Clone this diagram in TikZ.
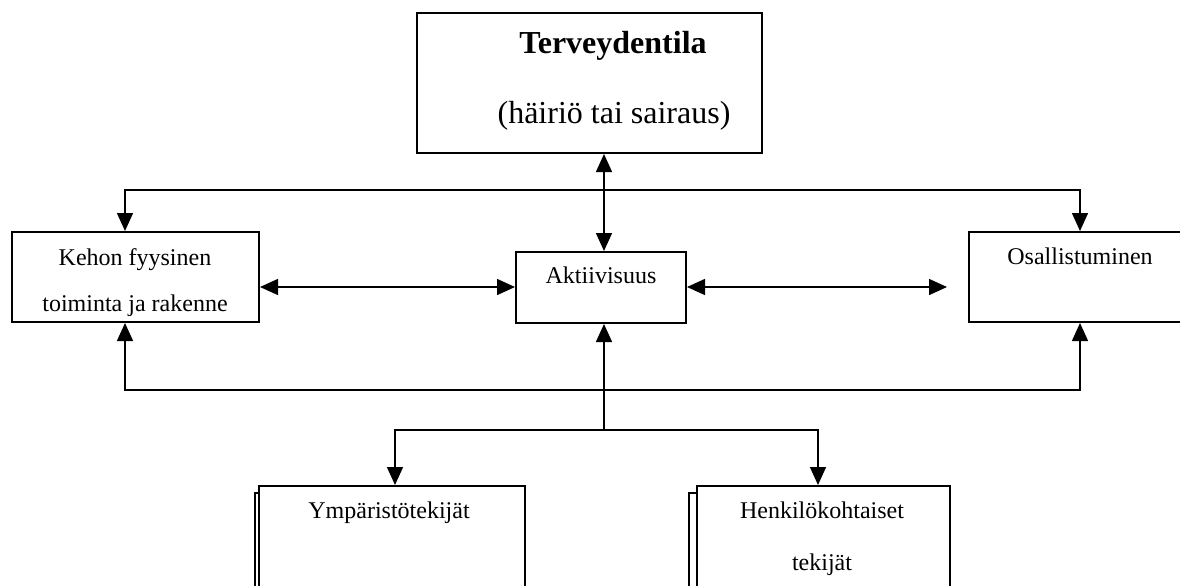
\documentclass[tikz,border=0pt]{standalone}
\usepackage{fontspec}
\setmainfont{Liberation Serif}
\usetikzlibrary{fit,arrows.meta}
\begin{document}
\begin{tikzpicture}[x=0.5pt,y=-0.5pt,
  box/.style={draw,line width=1pt,fill=white,inner sep=0pt},
  conn/.style={line width=0.75pt},
  tt/.style={{Triangle[length=9pt,width=8pt]}-{Triangle[length=9pt,width=8pt]}},
  ts/.style={{Triangle[length=9pt,width=8pt]}-},
  small/.style={font=\fontsize{12pt}{14pt}\selectfont,anchor=base,inner sep=0pt},
  big/.style={font=\fontsize{16pt}{19pt}\selectfont,anchor=base,inner sep=0pt}]
\useasboundingbox (0,0) rectangle (1180,585);
% corner coordinates
\coordinate (t1) at (417,13);  \coordinate (t2) at (762,153);
\coordinate (l1) at (12,232);  \coordinate (l2) at (259,322);
\coordinate (a1) at (516,252); \coordinate (a2) at (686,323);
\coordinate (r1) at (969,232); \coordinate (r2) at (1195,322);
\coordinate (y1) at (259,486); \coordinate (y2) at (525,640);
\coordinate (yb1) at (255,493); \coordinate (yb2) at (521,650);
\coordinate (h1) at (697,486); \coordinate (h2) at (950,640);
\coordinate (hb1) at (689,493); \coordinate (hb2) at (942,650);
% boxes
\node[box,fit=(t1)(t2)] (T) {};
\node[box,fit=(l1)(l2)] (L) {};
\node[box,fit=(a1)(a2)] (A) {};
\node[box,fit=(r1)(r2)] (R) {};
\node[box,fit=(yb1)(yb2)] (Yb) {};
\node[box,fit=(y1)(y2)] (Y) {};
\node[box,fit=(hb1)(hb2)] (Hb) {};
\node[box,fit=(h1)(h2)] (H) {};
% texts
\node[big,font=\fontsize{16pt}{19pt}\selectfont\bfseries] (tx1) at (613,53) {Terveydentila};
\node[big] (tx2) at (614,123) {(häiriö tai sairaus)};
\node[small] (tx3) at (135,265) {Kehon fyysinen};
\node[small] (tx4) at (135,311) {toiminta ja rakenne};
\node[small] (tx5) at (601,283) {Aktiivisuus};
\node[small] (tx6) at (1080,264) {Osallistuminen};
\node[small] (tx7) at (389,518) {Ympäristötekijät};
\node[small] (tx8) at (822,518) {Henkilökohtaiset};
\node[small] (tx9) at (822,570) {tekijät};
% junction coordinates
\coordinate (ax) at (604,0);
\coordinate (jl) at (125,190); \coordinate (jr) at (1080,190);
\coordinate (bl) at (125,390); \coordinate (br) at (1080,390);
\coordinate (hy) at (0,287);
\coordinate (rtip) at (947,287);
\coordinate (jm) at (604,430);
\coordinate (yl) at (395,430); \coordinate (hr) at (818,430);
% connectors
\draw[conn,tt] (T.south -| ax) -- (A.north -| ax);
\draw[conn,tt] (L.north -| jl) -- (jl) -- (jr) -- (R.north -| jr);
\draw[conn,tt] (L.south -| bl) -- (bl) -- (br) -- (R.south -| br);
\draw[conn,tt] (L.east |- hy) -- (A.west |- hy);
\draw[conn,tt] (A.east |- hy) -- (rtip);
\draw[conn,ts] (A.south -| ax) -- (jm);
\draw[conn,tt] (Y.north -| yl) -- (yl) -- (hr) -- (H.north -| hr);
\end{tikzpicture}
\end{document}
